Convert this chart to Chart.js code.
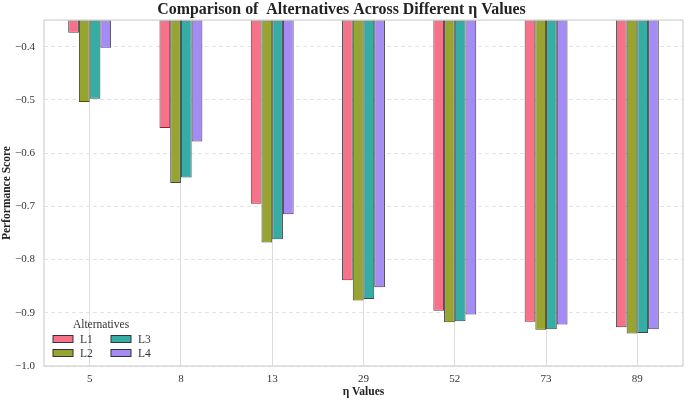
<!DOCTYPE html>
<html>
<head>
<meta charset="utf-8">
<script src="https://cdn.jsdelivr.net/npm/chart.js@4.4.0/dist/chart.umd.min.js"></script>
<style>
  html, body { margin: 0; padding: 0; background: #fff; }
  #wrap { width: 685px; height: 400px; }
</style>
</head>
<body>
<div id="wrap"><canvas id="myChart"></canvas></div>
<script>
// valores
const etaValues = ["5", "8", "13", "29", "52", "73", "89"];
const L1 = [-0.374, -0.553, -0.695, -0.839, -0.896, -0.917, -0.927];
const L2 = [-0.504, -0.656, -0.768, -0.877, -0.918, -0.932, -0.939];
const L3 = [-0.498, -0.646, -0.762, -0.874, -0.916, -0.931, -0.938];
const L4 = [-0.402, -0.578, -0.715, -0.852, -0.903, -0.922, -0.931];
const seriesNames = ["L1", "L2", "L3", "L4"];
const seriesColors = ["#f77189", "#97a431", "#36ada4", "#a48cf4"];
const yTicks = [-1.0, -0.9, -0.8, -0.7, -0.6, -0.5, -0.4];

const serif = "'Liberation Serif', 'Times New Roman', serif";

// marco gris alrededor del area de trazado
const framePlugin = {
  id: 'frame',
  afterDraw(chart) {
    const a = chart.chartArea, ctx = chart.ctx;
    ctx.save();
    ctx.strokeStyle = '#d0d0d0';
    ctx.lineWidth = 1.2;
    ctx.strokeRect(a.left, a.top, a.right - a.left, a.bottom - a.top);
    ctx.restore();
  }
};

// leyenda dentro del grafico, abajo a la izquierda, 2 columnas
const insideLegend = {
  id: 'insideLegend',
  afterDraw(chart) {
    const ctx = chart.ctx, a = chart.chartArea;
    const ds = chart.data.datasets;
    ctx.save();
    ctx.font = '11.5px ' + serif;
    ctx.fillStyle = '#333';
    ctx.textBaseline = 'middle';
    ctx.textAlign = 'center';
    ctx.fillText('Alternatives', a.left + 57, a.bottom - 41);
    ctx.textAlign = 'left';
    ds.forEach((d, i) => {
      const col = Math.floor(i / 2), row = i % 2;
      const x = a.left + 9 + col * 58;
      const y = a.bottom - 27 + row * 14;
      ctx.fillStyle = d.backgroundColor;
      ctx.fillRect(x, y - 3.5, 20, 7);
      ctx.strokeStyle = '#333';
      ctx.lineWidth = 1;
      ctx.strokeRect(x, y - 3.5, 20, 7);
      ctx.fillStyle = '#333';
      ctx.fillText(d.label, x + 27, y + 0.5);
    });
    ctx.restore();
  }
};

const seriesData = [L1, L2, L3, L4];

window.onload = function() {
  let canva = document.getElementById('myChart').getContext('2d');

  let myChart = new Chart(canva, {
    type: 'bar',
    data: {
      labels: etaValues,
      datasets: seriesNames.map((name, i) => ({
        label: name,
        data: seriesData[i],
        backgroundColor: seriesColors[i],
        borderColor: 'rgba(35,35,35,0.85)',
        borderWidth: 1,
        categoryPercentage: 0.47,
        barPercentage: 1.0
      }))
    },
    options: {
      responsive: true,
      maintainAspectRatio: false,
      animation: false,
      layout: { padding: { right: 2, top: 0, left: 0, bottom: 0 } },
      plugins: {
        legend: { display: false },
        tooltip: { enabled: false },
        title: {
          display: true,
          text: 'Comparison of  Alternatives Across Different \u03b7 Values',
          color: '#222',
          font: { family: serif, size: 15.9, weight: 'bold' },
          padding: { top: 0, bottom: 1 }
        }
      },
      scales: {
        x: {
          offset: true,
          grid: { display: true, offset: false, color: '#dcdcdc', lineWidth: 1, drawTicks: false },
          border: { display: false },
          ticks: { color: '#333', font: { family: serif, size: 11 }, padding: 7 },
          title: {
            display: true, text: '\u03b7 Values', color: '#222',
            font: { family: serif, size: 11.5, weight: 'bold' }, padding: { top: 0, bottom: 1 }
          },
          afterFit(scale) { scale.height = 34; }
        },
        y: {
          min: -1.0,
          max: -0.35,
          afterBuildTicks(scale) { scale.ticks = yTicks.map(v => ({ value: v })); },
          grid: { color: '#e3e3e3', lineWidth: 1, drawTicks: false },
          border: { display: false, dash: [4, 3] },
          ticks: {
            color: '#333', font: { family: serif, size: 11 }, padding: 9,
            callback: v => v.toFixed(1).replace('-', '\u2212')
          },
          title: {
            display: true, text: 'Performance Score', color: '#222',
            font: { family: serif, size: 11.5, weight: 'bold' }, padding: { top: 0, bottom: 0 }
          },
          afterFit(scale) { scale.width = 44; }
        }
      }
    },
    plugins: [framePlugin, insideLegend]
  });
};
</script>
</body>
</html>
